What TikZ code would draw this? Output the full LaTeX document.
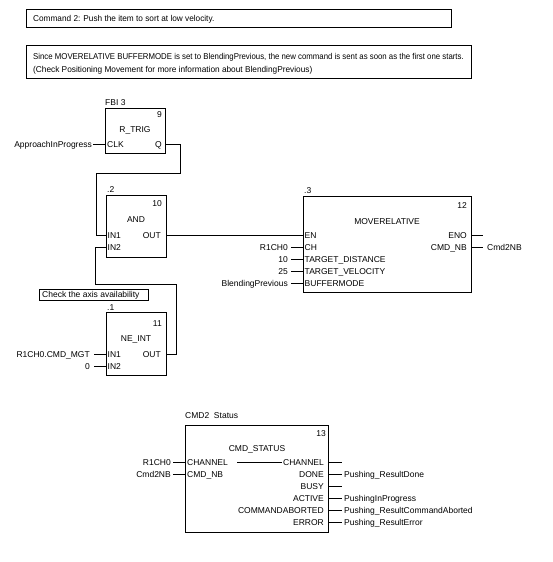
\documentclass[tikz,border=0pt]{standalone}
\usepackage{fontspec}
\setmainfont{Liberation Sans}
\newfontfamily\fnt{Liberation Sans}
\usetikzlibrary{calc}
\begin{document}
\begin{tikzpicture}[x=1pt,y=-1pt,
  blk/.style={draw, line width=0.8pt, inner sep=0, anchor=north west},
  lbl/.style={inner sep=0, font=\fontsize{8.5}{10}\fnt, text height=6.1pt, text depth=0pt},
  wire/.style={line width=0.8pt}]
\useasboundingbox (0,0) rectangle (552,562);
% comment boxes
\node[blk, minimum width=425pt, minimum height=18pt] (c1) at (26,9) {};
\node[lbl, anchor=west] (c1t) at (33,18) {\scalebox{0.97}[1]{Command 2: Push the item to sort at low velocity.}};
\node[blk, minimum width=445pt, minimum height=33pt] (c2) at (26,45) {};
\node[lbl, anchor=west] (c2a) at (33,56) {\scalebox{0.92}[1]{Since MOVERELATIVE BUFFERMODE is set to BlendingPrevious, the new command is sent as soon as the first one starts.}};
\node[lbl, anchor=west] (c2b) at (33,69) {\scalebox{0.975}[1]{(Check Positioning Movement for more information about BlendingPrevious)}};
% R_TRIG
\node[blk, minimum width=60pt, minimum height=45pt] (rt) at (105,108) {};
\node[lbl, anchor=west] at (105,102) {FBI 3};
\node[lbl, anchor=east] at (162,114) {9};
\node[lbl] at (135,129) {R\_TRIG};
\node[lbl, anchor=west] at (107,144) {CLK};
\node[lbl, anchor=east] at (162,144) {Q};
\node[lbl, anchor=east] (aip) at (92,144) {ApproachInProgress};
\coordinate (rtclk) at (105,144);
\coordinate (rtq) at (165,144);
\draw[wire] ($(aip.east)+(1,0)$) -- (rtclk);
% AND
\node[blk, minimum width=60pt, minimum height=62pt] (and) at (106,195) {};
\node[lbl, anchor=west] at (107,189) {.2};
\node[lbl, anchor=east] at (162,203) {10};
\node[lbl] at (136,219) {AND};
\node[lbl, anchor=west] at (107.5,235) {IN1};
\node[lbl, anchor=west] at (107.5,247) {IN2};
\node[lbl, anchor=east] at (161,235) {OUT};
\coordinate (andin1) at (106,235);
\coordinate (andin2) at (106,247);
\coordinate (andout) at (166,235);
% NE_INT
\node[blk, minimum width=60pt, minimum height=63pt] (ne) at (106,312) {};
\node[lbl, anchor=west] at (107,307) {.1};
\node[lbl, anchor=east] at (162,323) {11};
\node[lbl] at (136,338) {NE\_INT};
\node[lbl, anchor=west] at (107.5,354) {IN1};
\node[lbl, anchor=west] at (107.5,366) {IN2};
\node[lbl, anchor=east] at (161,354) {OUT};
\coordinate (nein1) at (106,354);
\coordinate (nein2) at (106,366);
\coordinate (neout) at (166,354);
\node[lbl, anchor=east] (mgt) at (90,354) {R1CH0.CMD\_MGT};
\node[lbl, anchor=east] (zero) at (90,366) {0};
\draw[wire] (94,354) -- (nein1);
\draw[wire] (94,366) -- (nein2);
\node[blk, minimum width=109pt, minimum height=11pt] (chk) at (39,289) {};
\node[lbl, anchor=west] at (42,294.5) {Check the axis availability};
% wires between blocks
\draw[wire] (rtq) -- (180,144) -- (180,173) -- (96,173) -- (96,235) -- (andin1);
\draw[wire] (andin2) -- (95,247) -- (95,284) -- (176,284) -- (176,354) -- (neout);
% MOVERELATIVE
\node[blk, minimum width=168pt, minimum height=96pt] (mr) at (303,196) {};
\node[lbl, anchor=west] at (304,190) {.3};
\node[lbl, anchor=east] at (467,205) {12};
\node[lbl] at (387,221) {MOVERELATIVE};
\node[lbl, anchor=west] at (304.5,235) {EN};
\node[lbl, anchor=west] at (304.5,247) {CH};
\node[lbl, anchor=west] at (304.5,259) {TARGET\_DISTANCE};
\node[lbl, anchor=west] at (304.5,271) {TARGET\_VELOCITY};
\node[lbl, anchor=west] at (304.5,283) {BUFFERMODE};
\node[lbl, anchor=east] at (467,235) {ENO};
\node[lbl, anchor=east] at (467,247) {CMD\_NB};
\coordinate (mren) at (303,235);
\draw[wire] (andout) -- (mren);
\node[lbl, anchor=east] (mrch) at (288,247) {R1CH0};
\node[lbl, anchor=east] (mrtd) at (288,259) {10};
\node[lbl, anchor=east] (mrtv) at (288,271) {25};
\node[lbl, anchor=east] (mrbm) at (288,283) {BlendingPrevious};
\foreach \yy in {247,259,271,283} \draw[wire] (291,\yy) -- (303,\yy);
\draw[wire] (471,235) -- (483,235);
\draw[wire] (471,247) -- (483,247);
\node[lbl, anchor=west] (c2nb) at (487,247) {Cmd2NB};
% CMD_STATUS
\node[blk, minimum width=143pt, minimum height=107pt] (cs) at (185,425) {};
\node[lbl, anchor=west] at (185,415) {CMD2~ Status};
\node[lbl, anchor=east] at (326,433) {13};
\node[lbl] at (257,448) {CMD\_STATUS};
\node[lbl, anchor=west] (csch) at (187,462) {CHANNEL};
\node[lbl, anchor=west] at (187,474) {CMD\_NB};
\node[lbl, anchor=east] (cschout) at (324,462) {CHANNEL};
\node[lbl, anchor=east] at (324,474) {DONE};
\node[lbl, anchor=east] at (324,486) {BUSY};
\node[lbl, anchor=east] at (324,498) {ACTIVE};
\node[lbl, anchor=east] at (324,510) {COMMANDABORTED};
\node[lbl, anchor=east] at (324,522) {ERROR};
\draw[wire] (237,462) -- (282,462);
\node[lbl, anchor=east] (csr) at (171,462) {R1CH0};
\node[lbl, anchor=east] (csc) at (171,474) {Cmd2NB};
\draw[wire] (173,462) -- (185,462);
\draw[wire] (173,474) -- (185,474);
\foreach \yy in {462,474,486,498,510,522} \draw[wire] (328,\yy) -- (342,\yy);
\node[lbl, anchor=west] at (344,474) {Pushing\_ResultDone};
\node[lbl, anchor=west] at (344,498) {PushingInProgress};
\node[lbl, anchor=west] at (344,510) {Pushing\_ResultCommandAborted};
\node[lbl, anchor=west] at (344,522) {Pushing\_ResultError};
\end{tikzpicture}
\end{document}
